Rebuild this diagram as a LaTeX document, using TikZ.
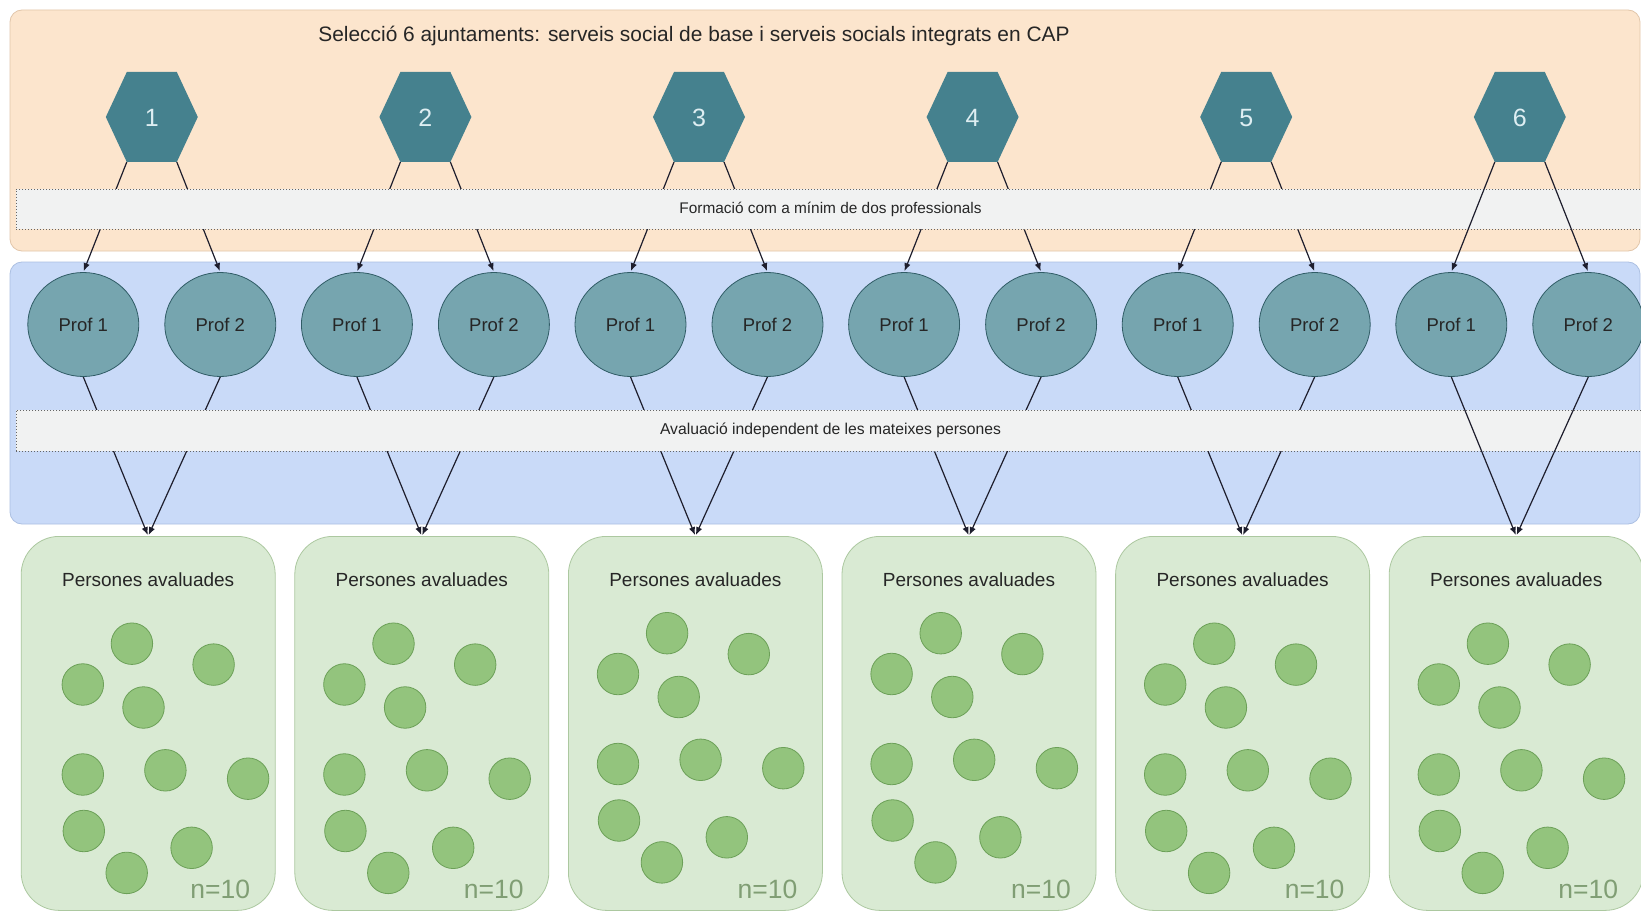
\documentclass[tikz,border=0pt]{standalone}
\usepackage{fontspec}
\setmainfont{Liberation Sans}
\usetikzlibrary{positioning,calc,arrows.meta,shapes.geometric}

\definecolor{peach}{RGB}{252,229,205}
\definecolor{peachline}{RGB}{226,198,170}
\definecolor{skyblue}{RGB}{201,218,248}
\definecolor{skyline}{RGB}{172,192,226}
\definecolor{bandgray}{RGB}{241,242,242}
\definecolor{hexteal}{RGB}{69,129,142}
\definecolor{hextext}{RGB}{222,238,242}
\definecolor{profteal}{RGB}{118,165,175}
\definecolor{profline}{RGB}{48,92,102}
\definecolor{boxgreen}{RGB}{217,234,211}
\definecolor{boxline}{RGB}{172,200,160}
\definecolor{dotgreen}{RGB}{147,196,125}
\definecolor{dotline}{RGB}{108,160,88}
\definecolor{ncolor}{RGB}{128,158,116}
\definecolor{arrowcol}{RGB}{30,30,45}

\pgfdeclarelayer{bg}
\pgfdeclarelayer{low}
\pgfdeclarelayer{band}
\pgfdeclarelayer{front}
\pgfsetlayers{bg,low,band,main,front}

\tikzset{
  panel/.style={rounded corners=12pt, line width=0.8pt},
  bandbox/.style={fill=bandgray, draw=black!60, dash pattern=on 1.4pt off 1.6pt, line width=0.8pt,
    minimum width=1629pt, minimum height=40pt, inner sep=0pt, font=\fontsize{15.4}{17}\selectfont},
  hexnum/.style={inner sep=0pt, text=hextext, font=\fontsize{25}{25}\selectfont},
  prof/.style={ellipse, draw=profline, fill=profteal, line width=0.8pt, inner sep=0pt,
    minimum width=111pt, minimum height=104pt, font=\fontsize{18.5}{20}\selectfont},
  unitbox/.style={draw=boxline, fill=boxgreen, line width=0.8pt, rounded corners=38pt,
    minimum width=254pt, minimum height=374pt, anchor=north},
  person/.style={circle, draw=dotline, fill=dotgreen, minimum size=41.5pt, inner sep=0pt, line width=0.8pt},
  tally/.style={text=ncolor, font=\fontsize{26.5}{28}\selectfont},
  arr/.style={draw=arrowcol, line width=1.2pt, -{Latex[length=8pt,width=6.5pt]}, shorten >=1pt},
}

\begin{document}
\begin{tikzpicture}[x=1pt, y=-1pt, every node/.style={font=\fontsize{19}{21}\selectfont, text=black!85}]

  \def\gap{273.6}
  \def\hexy{117}
  \def\profy{324.5}
  \def\boxtop{536}

  \useasboundingbox (0,0) rectangle (1641,912);

  \begin{pgfonlayer}{bg}
    \fill[white] (0,0) rectangle (1641,912);
    \draw[panel, fill=peach, draw=peachline] (10,10) rectangle (1640,251);
    \draw[panel, fill=skyblue, draw=skyline] (10,262) rectangle (1640,524);
  \end{pgfonlayer}

  \node[font=\fontsize{20.9}{24}\selectfont] (title) at (694,36) {Selecció 6 ajuntaments: serveis social de base i serveis socials integrats en CAP};

  \begin{pgfonlayer}{band}
    \node[bandbox] (training) at (830.5,209) {\raisebox{-2pt}{Formació com a mínim de dos professionals}};
    \node[bandbox, minimum height=41pt, font=\fontsize{15.7}{17}\selectfont] (review) at (830.5,430.5) {\raisebox{-1pt}{Avaluació independent de les mateixes persones}};
  \end{pgfonlayer}

  \foreach \i/\sx/\sy in {1/12/0, 2/0/0, 3/0/-10.5, 4/0/-10.5, 5/0/0, 6/0/0} {
    \pgfmathsetmacro{\hx}{151.8+\gap*(\i-1)}
    \pgfmathsetmacro{\gx}{\hx-3.6}

    \fill[hexteal] ({\hx-46},\hexy) -- ({\hx-25},{\hexy-45}) -- ({\hx+25},{\hexy-45})
      -- ({\hx+46},\hexy) -- ({\hx+25},{\hexy+45}) -- ({\hx-25},{\hexy+45}) -- cycle;
    \node[hexnum] (h\i) at (\hx,{\hexy+1}) {\i};
    \coordinate (hl\i) at ({\hx-25},{\hexy+45});
    \coordinate (hr\i) at ({\hx+25},{\hexy+45});

    \node[prof] (a\i) at ({\hx-68.5},\profy) {Prof 1};
    \node[prof] (b\i) at ({\hx+68.5},\profy) {Prof 2};

    \node[unitbox] (g\i) at (\gx,\boxtop) {};
    \node (t\i) at ($(g\i.north)+(0,44)$) {Persones avaluades};
    \node[tally] (n\i) at ($(g\i.south)+(72,-21)$) {n=10};

    \foreach \dx/\dy [count=\k] in {-28.3/643.7, 53.4/664.6, -77.4/684.5, -16.7/707.5, -77.4/774.5,
                                    5.2/770.3, 87.9/778.7, -76.4/831, 31.4/847.8, -33.5/872.9} {
      \node[person] (m\i-\k) at ({\gx+\sx+\dx},{\dy+\sy}) {};
    }
  }

  \foreach \i/\lay in {1/low, 2/low, 3/low, 4/low, 5/low, 6/front} {
    \begin{pgfonlayer}{\lay}
      \draw[arr] (hl\i) -- (a\i.north);
      \draw[arr] (hr\i) -- (b\i.north);
      \draw[arr] (a\i.south) -- (g\i.north);
      \draw[arr] (b\i.south) -- (g\i.north);
    \end{pgfonlayer}
  }

\end{tikzpicture}
\end{document}
